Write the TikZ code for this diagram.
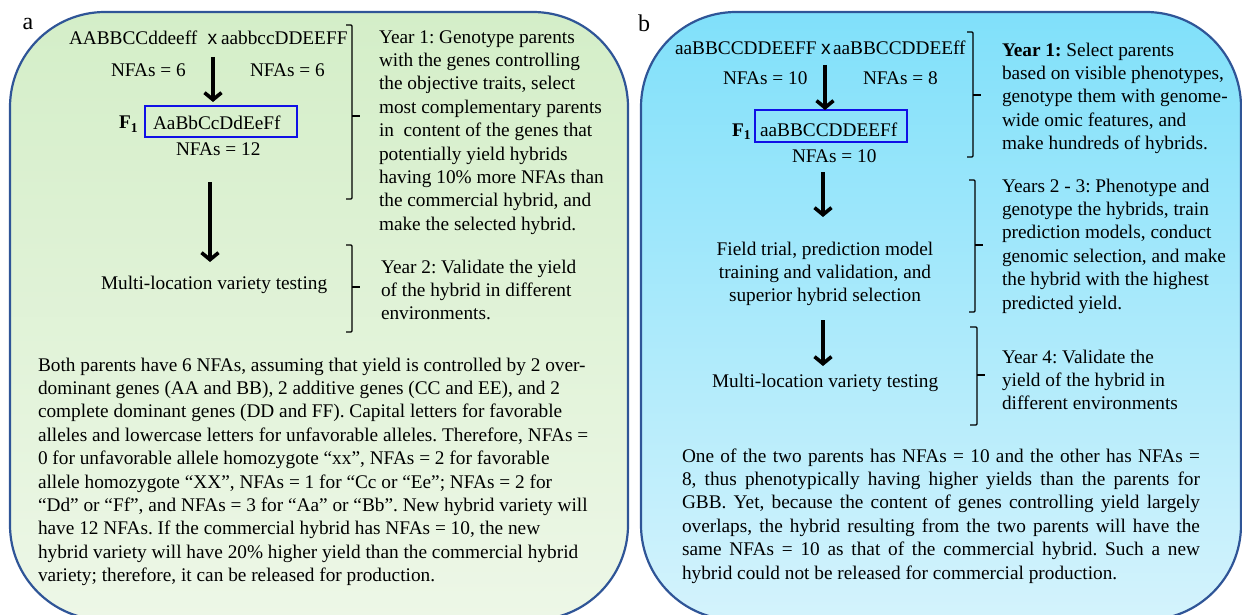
\documentclass[tikz,border=0pt]{standalone}
\usepackage{fontspec}
\setmainfont{Liberation Serif}
\newfontfamily\crossfont{Liberation Sans}
\usetikzlibrary{arrows.meta}
\definecolor{rimblue}{HTML}{2F5597}
\definecolor{boxblue}{HTML}{1010E6}
\definecolor{greentop}{HTML}{D4EEC8}
\definecolor{greenbot}{HTML}{EDF7E7}
\definecolor{cyantop}{HTML}{80E0FA}
\definecolor{cyanbot}{HTML}{D4F3FC}
\frenchspacing
\begin{document}
\begin{tikzpicture}[x=1pt,y=-1pt,
  every node/.style={inner sep=0pt,outer sep=0pt,font=\fontsize{19.3}{23.4}\selectfont},
  txt/.style={anchor=base west,align=left},
  panel/.style={draw=rimblue,line width=2.2pt,rounded corners=95pt},
  flow/.style={line width=3.6pt,-{Straight Barb[length=7pt,width=17pt]}},
  brk/.style={line width=1.2pt,rounded corners=1pt},
  genobox/.style={draw=boxblue,line width=2.4pt},
  tag/.style={font=\fontsize{24}{28}\selectfont,anchor=center},
  cross/.style={font=\fontsize{19.3}{23.4}\crossfont,anchor=base}]

\clip (0,0) rectangle (1242,615);

% ---------- panel backgrounds ----------
\path[panel,top color=greentop,bottom color=greenbot] (10,12) rectangle (628,620);
\path[panel,top color=cyantop,bottom color=cyanbot] (641,12) rectangle (1241,620);

\node[tag] (la) at (28,24) {a};
\node[tag] (lb) at (644,23) {b};

% ================= panel a =================
% (multi-line nodes are placed by the baseline of their last line)
\node[txt] (pa1) at (69,45) {AABBCCddeeff};
\node[cross] (xa) at (212.5,45) {x};
\node[txt] (pa2) at (221,45) {aabbccDDEEFF};
\node[txt] (na1) at (111,77) {NFAs = 6};
\node[txt] (na2) at (250,77) {NFAs = 6};
\node[txt] (fa) at (119,129) {\textbf{F\textsubscript{1}}};
\draw[genobox] (145,106) rectangle (297,137);
\node[txt] (ha) at (153,129.5) {AaBbCcDdEeFf};
\node[txt] (nha) at (176,156) {NFAs = 12};
\node[txt] (mla) at (101,289) {Multi-location variety testing};

\coordinate (a1s) at (213,57);  \coordinate (a1e) at (213,102);
\coordinate (a2s) at (210,182); \coordinate (a2e) at (210,262);
\draw[flow] (a1s) -- (a1e);
\draw[flow] (a2s) -- (a2e);

% brackets
\draw[brk] (346,25) -- (352,25) -- (352,199) -- (346,199);
\draw[brk] (352,116) -- (360,116);
\draw[brk] (346,245) -- (352,245) -- (352,332) -- (346,332);
\draw[brk] (352,287) -- (360,287);

\node[txt] (ya1) at (379,230.2) {Year 1: Genotype parents\\
with the genes controlling\\
the objective traits, select\\
most complementary parents\\
in~ content of the genes that\\
potentially yield hybrids\\
having 10\% more NFAs than\\
the commercial hybrid, and\\
make the selected hybrid.};

\node[txt] (ya2) at (381,319.8) {Year 2: Validate the yield\\
of the hybrid in different\\
environments.};

\node[txt] (pa) at (38,581.6) {Both parents have 6 NFAs, assuming that yield is controlled by 2 over-\\
dominant genes (AA and BB), 2 additive genes (CC and EE), and 2\\
complete dominant genes (DD and FF). Capital letters for favorable\\
alleles and lowercase letters for unfavorable alleles. Therefore, NFAs =\\
0 for unfavorable allele homozygote “xx”, NFAs = 2 for favorable\\
allele homozygote “XX\char"22, NFAs = 1 for “Cc or “Ee”; NFAs = 2 for\\
“Dd” or “Ff”, and NFAs = 3 for “Aa” or “Bb”. New hybrid variety will\\
have 12 NFAs. If the commercial hybrid has NFAs = 10, the new\\
hybrid variety will have 20\% higher yield than the commercial hybrid\\
variety; therefore, it can be released for production.};

% ================= panel b =================
\node[txt] (pb1) at (675,55) {aaBBCCDDEEFF};
\node[cross] (xb) at (826,55) {x};
\node[txt] (pb2) at (833,55) {aaBBCCDDEEff};
\node[txt] (nb1) at (723,85) {NFAs = 10};
\node[txt] (nb2) at (863,85) {NFAs = 8};
\node[txt] (fb) at (732,136) {\textbf{F\textsubscript{1}}};
\draw[genobox] (755,110) rectangle (907,142);
\node[txt] (hb) at (760,136.5) {aaBBCCDDEEFf};
\node[txt] (nhb) at (792,163) {NFAs = 10};
\node[anchor=base,align=center] (ft) at (825,301.8) {Field trial, prediction model\\
training and validation, and\\
superior hybrid selection};
\node[txt] (mlb) at (712,387) {Multi-location variety testing};

\coordinate (b1s) at (825,65);  \coordinate (b1e) at (825,110);
\coordinate (b2s) at (823,172); \coordinate (b2e) at (823,217);
\coordinate (b3s) at (823,320); \coordinate (b3e) at (823,366);
\draw[flow] (b1s) -- (b1e);
\draw[flow] (b2s) -- (b2e);
\draw[flow] (b3s) -- (b3e);

\draw[brk] (967,32) -- (973,32) -- (973,157) -- (967,157);
\draw[brk] (973,95) -- (981,95);
\draw[brk] (969,180) -- (975,180) -- (975,312) -- (969,312);
\draw[brk] (975,245) -- (983,245);
\draw[brk] (970,327) -- (977,327) -- (977,425) -- (970,425);
\draw[brk] (977,375) -- (985,375);

\node[txt] (yb1) at (1002,149.6) {\textbf{Year 1:} Select parents\\
based on visible phenotypes,\\
genotype them with genome-\\
wide omic features, and\\
make hundreds of hybrids.};

\node[txt] (yb2) at (1002,309) {Years 2 - 3: Phenotype and\\
genotype the hybrids, train\\
prediction models, conduct\\
genomic selection, and make\\
the hybrid with the highest\\
predicted yield.};

\node[txt] (yb4) at (1002,409.8) {Year 4: Validate the\\
yield of the hybrid in\\
different environments};

\node[txt] (pb) at (682,579) {\makebox[518pt][s]{One of the two parents has NFAs = 10 and the other has NFAs =}\\
\makebox[518pt][s]{8, thus phenotypically having higher yields than the parents for}\\
\makebox[518pt][s]{GBB. Yet, because the content of genes controlling yield largely}\\
\makebox[518pt][s]{overlaps, the hybrid resulting from the two parents will have the}\\
\makebox[518pt][s]{same NFAs = 10 as that of the commercial hybrid. Such a new}\\
hybrid could not be released for commercial production.};

\end{tikzpicture}
\end{document}
